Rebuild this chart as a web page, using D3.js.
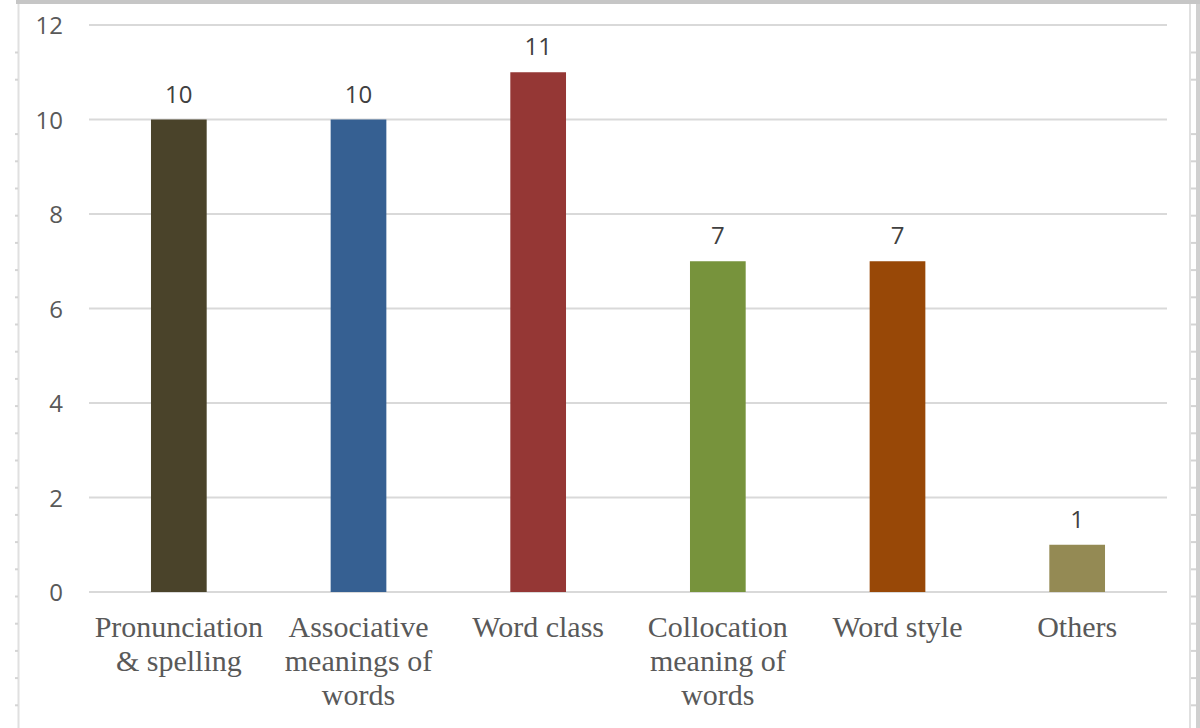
<!DOCTYPE html>
<html>
<head>
<meta charset="utf-8">
<script src="https://cdn.jsdelivr.net/npm/d3@7"></script>
<style>
  html, body { margin: 0; padding: 0; background: #ffffff; }
  svg { display: block; }
</style>
</head>
<body>
<svg id="chart" width="1200" height="728"></svg>
<script>
// Word-knowledge categories and their counts
const categories = [
  ["Pronunciation", "& spelling"],
  ["Associative", "meanings of", "words"],
  ["Word class"],
  ["Collocation", "meaning of", "words"],
  ["Word style"],
  ["Others"]
];
const values = [10, 10, 11, 7, 7, 1];
const barColors = ["#4a432a", "#366092", "#953735", "#77933c", "#984807", "#948a54"];
const yTicks = [0, 2, 4, 6, 8, 10, 12];

const W = 1200, H = 728;
const svg = d3.select("#chart");

// Sheet frame: top band, left/right edges with row markers
svg.append("rect").attr("x", 16).attr("y", 0).attr("width", W - 16).attr("height", 4).attr("fill", "#c6c6c6");
svg.append("line").attr("x1", 18.5).attr("x2", 18.5).attr("y1", 4).attr("y2", H)
  .attr("stroke", "#e0e0e0").attr("stroke-width", 2);
svg.append("line").attr("x1", 1190).attr("x2", 1190).attr("y1", 4).attr("y2", H)
  .attr("stroke", "#e0e0e0").attr("stroke-width", 2);
svg.append("rect").attr("x", 1196).attr("y", 4).attr("width", 4).attr("height", H).attr("fill", "#d0d0d0");
const rowMarks = d3.range(0, 25).map(i => 52.5 + i * 27.2).filter(y => y < H && Math.abs(y - 106) > 5);
svg.selectAll("line.rowL").data(rowMarks).join("line")
  .attr("class", "rowL").attr("x1", 15).attr("x2", 18).attr("y1", d => d).attr("y2", d => d)
  .attr("stroke", "#d4d4d4").attr("stroke-width", 2);
svg.selectAll("line.rowR").data(rowMarks).join("line")
  .attr("class", "rowR").attr("x1", 1191).attr("x2", 1196).attr("y1", d => d).attr("y2", d => d)
  .attr("stroke", "#d4d4d4").attr("stroke-width", 2);

// Scales
const x = d3.scaleBand().domain(d3.range(categories.length)).range([89, 1167]).paddingInner(0.69).paddingOuter(0.345);
const y = d3.scaleLinear().domain([0, 12]).range([592, 25]);

// Gridlines
svg.append("g").selectAll("line").data(yTicks).join("line")
  .attr("x1", 89).attr("x2", 1167)
  .attr("y1", d => y(d)).attr("y2", d => y(d))
  .attr("stroke", "#d9d9d9").attr("stroke-width", 2);

// Y axis labels
const yAxis = d3.axisLeft(y).tickValues(yTicks).tickSize(0).tickPadding(0);
const gy = svg.append("g").attr("transform", "translate(63,0)").call(yAxis);
gy.select(".domain").remove();
gy.selectAll("text")
  .attr("font-family", "'Open Sans', sans-serif").attr("font-size", 24)
  .attr("fill", "#595959").attr("dy", "0.36em");

// Bars
svg.append("g").selectAll("rect").data(values).join("rect")
  .attr("x", (d, i) => x(i)).attr("width", x.bandwidth())
  .attr("y", d => y(d)).attr("height", d => y(0) - y(d))
  .attr("fill", (d, i) => barColors[i]);

// Value labels
svg.append("g").selectAll("text").data(values).join("text")
  .attr("x", (d, i) => x(i) + x.bandwidth() / 2)
  .attr("y", d => y(d) - 17)
  .attr("text-anchor", "middle")
  .attr("font-family", "'Open Sans', sans-serif").attr("font-size", 24)
  .attr("fill", "#404040")
  .text(d => d);

// Category labels (multi-line, serif)
const xl = svg.append("g").selectAll("text").data(categories).join("text")
  .attr("text-anchor", "middle")
  .attr("font-family", "'Liberation Serif', 'Times New Roman', serif").attr("font-size", 30)
  .attr("fill", "#595959");
xl.each(function(lines, i) {
  d3.select(this).selectAll("tspan").data(lines).join("tspan")
    .attr("x", x(i) + x.bandwidth() / 2)
    .attr("y", (l, j) => 637 + j * 34)
    .text(l => l);
});
</script>
</body>
</html>
